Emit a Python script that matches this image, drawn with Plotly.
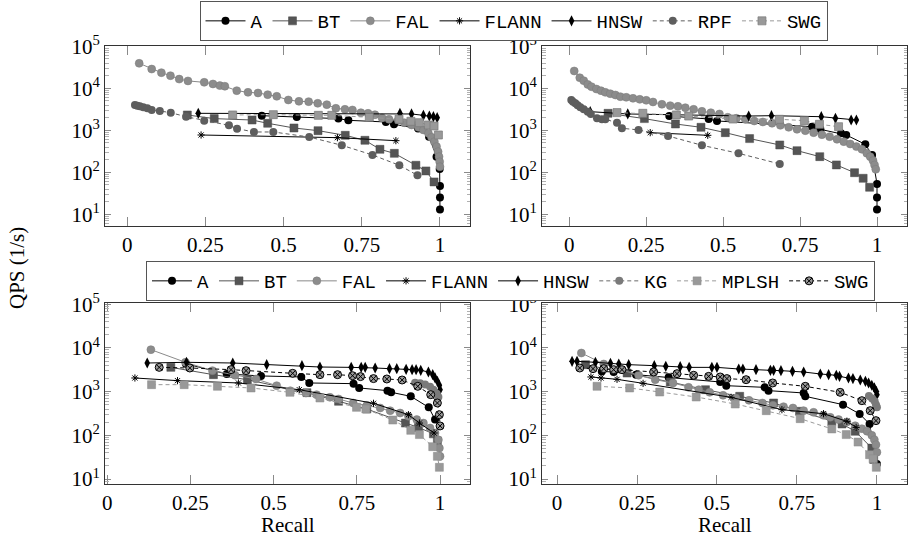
import plotly.graph_objects as go

# ---------------- data: top-left ----------------
TL_A_x = [0.43, 0.542, 0.675, 0.707, 0.827, 0.853, 0.93, 0.965, 0.989, 0.999, 1.0, 1.0, 1.0]
TL_A_y = [2230, 2080, 1900, 1730, 1580, 1390, 1100, 700, 236, 120, 47, 25, 13]
TL_BT_x = [0.192, 0.278, 0.399, 0.449, 0.533, 0.61, 0.697, 0.76, 0.808, 0.854, 0.923, 0.955, 0.981]
TL_BT_y = [2320, 1900, 1760, 1470, 1137, 982, 760, 578, 353, 283, 147, 108, 59]
TL_FAL_x = [0.038, 0.078, 0.109, 0.138, 0.166, 0.194, 0.246, 0.274, 0.296, 0.312, 0.35, 0.386, 0.418,
            0.449, 0.478, 0.515, 0.549, 0.58, 0.609, 0.638, 0.667, 0.696, 0.72, 0.747, 0.77, 0.792,
            0.815, 0.837, 0.867, 0.886, 0.909, 0.931, 0.947, 0.963, 0.973, 0.982, 0.989, 0.994,
            0.997, 0.999, 1.0]
TL_FAL_y = [39400, 28800, 23600, 20000, 16600, 15000, 13900, 12700, 11600, 11200, 8800, 8030, 7750,
            7070, 6450, 5280, 4900, 4820, 4400, 4090, 3340, 3160, 3050, 2630, 2540, 2360,
            1970, 1830, 1760, 1520, 1340, 1180, 1020, 850, 680, 537, 409, 310,
            236, 178, 136]
TL_FLANN_x = [0.236, 0.672, 0.859]
TL_FLANN_y = [774, 668, 567]
TL_HNSW_x = [0.227, 0.872, 0.909, 0.947, 0.966, 0.979, 0.991]
TL_HNSW_y = [2540, 2540, 2450, 2275, 2190, 2110, 2000]
TL_RPF_x = [0.0245, 0.032, 0.04, 0.051, 0.064, 0.078, 0.104, 0.139, 0.188, 0.246, 0.325, 0.351,
            0.405, 0.467, 0.582, 0.686, 0.784, 0.87, 0.928]
TL_RPF_y = [4010, 3870, 3720, 3530, 3340, 3050, 2885, 2630, 2110, 1700, 1315, 1096,
            913, 913, 693, 440, 259, 147, 85]
TL_SWG_x = [0.337, 0.467, 0.611, 0.654, 0.774, 0.869, 0.907, 0.934, 0.963, 0.981, 0.995]
TL_SWG_y = [2320, 2360, 2275, 2275, 2040, 1830, 1640, 1520, 1340, 1270, 774]

# ---------------- data: top-right ----------------
TR_A_x = [0.325, 0.453, 0.48, 0.789, 0.816, 0.883, 0.9, 0.962, 0.984, 1.0, 1.0, 1.0]
TR_A_y = [2190, 1860, 1670, 1220, 1055, 849, 774, 464, 259, 53, 25, 13]
TR_BT_x = [0.126, 0.244, 0.345, 0.428, 0.507, 0.586, 0.684, 0.74, 0.814, 0.868, 0.927, 0.955, 0.976]
TR_BT_y = [2540, 1900, 1415, 1180, 880, 634, 448, 328, 236, 150, 98, 72, 44]
TR_FAL_x = [0.016, 0.034, 0.047, 0.06, 0.072, 0.088, 0.103, 0.117, 0.133, 0.15, 0.166, 0.185, 0.207,
            0.229, 0.25, 0.272, 0.301, 0.328, 0.353, 0.377, 0.404, 0.431, 0.46, 0.488, 0.515, 0.543,
            0.572, 0.601, 0.629, 0.659, 0.686, 0.713, 0.74, 0.767, 0.794, 0.821, 0.846, 0.87, 0.892,
            0.913, 0.933, 0.951, 0.967, 0.978, 0.987, 0.992, 0.996]
TR_FAL_y = [25900, 17900, 15200, 12400, 10960, 9640, 8800, 8030, 7460, 6930, 6330, 6110, 5780,
            5470, 5180, 4730, 4160, 3870, 3720, 3460, 3160, 2830, 2630, 2450, 2040, 1930,
            1830, 1670, 1580, 1470, 1315, 1180, 1055, 982, 880, 788, 706, 611, 537,
            473, 409, 353, 283, 236, 190, 150, 118]
TR_FLANN_x = [0.263, 0.45]
TR_FLANN_y = [880, 760]
TR_HNSW_x = [0.068, 0.19, 0.583, 0.657, 0.819, 0.865, 0.916, 0.933]
TR_HNSW_y = [2780, 2450, 2190, 2230, 2110, 1930, 1760, 1760]
TR_RPF_x = [0.0065, 0.012, 0.0195, 0.027, 0.036, 0.047, 0.06, 0.07, 0.09, 0.106, 0.117, 0.155,
            0.171, 0.225, 0.321, 0.431, 0.55, 0.684]
TR_RPF_y = [5270, 4820, 4400, 3940, 3530, 3160, 2780, 2450, 1930, 1830, 1830, 1520,
            1120, 1020, 733, 440, 283, 158]
TR_SWG_x = [0.155, 0.239, 0.348, 0.388, 0.532, 0.683, 0.764, 0.813, 0.875]
TR_SWG_y = [2640, 2540, 2320, 2190, 1860, 1830, 1700, 1390, 1220]

# ---------------- data: bottom-left ----------------
BL_A_x = [0.236, 0.359, 0.462, 0.583, 0.607, 0.74, 0.757, 0.842, 0.853, 0.912, 0.966, 0.985]
BL_A_y = [4330, 2540, 2290, 2170, 1580, 1525, 1215, 1055, 966, 782, 437, 229]
BL_BT_x = [0.191, 0.319, 0.421, 0.6, 0.695, 0.78, 0.896, 0.935, 0.98, 0.992]
BL_BT_y = [3600, 2450, 1880, 950, 601, 400, 191, 152, 108, 73]
BL_FAL_x = [0.131, 0.235, 0.316, 0.384, 0.447, 0.509, 0.55, 0.597, 0.629, 0.669, 0.695, 0.739, 0.78,
            0.82, 0.85, 0.88, 0.905, 0.93, 0.95, 0.97, 0.985, 0.995, 0.998, 1.0]
BL_FAL_y = [9160, 4700, 3030, 2370, 1950, 1370, 1050, 933, 853, 742, 679, 550, 486,
            423, 367, 324, 272, 229, 191, 147, 113, 79, 51, 33]
BL_FLANN_x = [0.083, 0.211, 0.394, 0.577, 0.8, 0.905, 0.938, 0.982]
BL_FLANN_y = [2055, 1787, 1580, 1110, 541, 297, 191, 113]
BL_HNSW_x = [0.12, 0.238, 0.377, 0.479, 0.585, 0.639, 0.733, 0.763, 0.775, 0.805, 0.848, 0.87, 0.898,
             0.916, 0.928, 0.942, 0.965, 0.978, 0.985, 0.992, 0.998, 1.0]
BL_HNSW_y = [4530, 4700, 4530, 4150, 3940, 3670, 3600, 3600, 3600, 3480, 3360, 3360, 3240,
             3190, 3190, 3080, 2820, 2450, 2060, 1730, 1400, 1110]
BL_KG_x = [0.925, 0.94, 0.955, 0.97, 0.98, 0.99, 0.995]
BL_KG_y = [1600, 1550, 1450, 1300, 1100, 900, 750]
BL_MPLSH_x = [0.133, 0.231, 0.331, 0.432, 0.549, 0.639, 0.749, 0.777, 0.858, 0.912, 0.938, 0.978, 0.992, 0.998]
BL_MPLSH_y = [1445, 1445, 1325, 1215, 966, 716, 437, 401, 224, 130, 104, 55, 33, 18.5]
BL_SWG_x = [0.156, 0.248, 0.372, 0.417, 0.557, 0.639, 0.692, 0.737, 0.761, 0.8, 0.84, 0.886, 0.933,
            0.972, 0.992, 0.998, 1.0]
BL_SWG_y = [3600, 3480, 3190, 3030, 2630, 2450, 2450, 2320, 2210, 1990, 1950, 1850, 1325,
            853, 550, 297, 164]

# ---------------- data: bottom-right ----------------
BR_A_x = [0.14, 0.177, 0.247, 0.349, 0.51, 0.529, 0.649, 0.661, 0.771, 0.776, 0.894, 0.946, 0.977, 1.0]
BR_A_y = [2900, 2820, 2450, 2130, 1665, 1370, 1255, 1055, 933, 782, 504, 308, 182, 22]
BR_BT_x = [0.089, 0.219, 0.354, 0.464, 0.571, 0.677, 0.758, 0.859, 0.891, 0.932, 0.984, 0.99]
BR_BT_y = [4150, 2670, 1665, 1110, 782, 550, 355, 209, 182, 124, 51, 28]
BR_FAL_x = [0.076, 0.146, 0.255, 0.307, 0.3625, 0.411, 0.443, 0.477, 0.519, 0.559, 0.6, 0.642, 0.675,
            0.708, 0.7375, 0.771, 0.802, 0.833, 0.854, 0.88, 0.906, 0.932, 0.953, 0.969, 0.984,
            0.992, 0.997, 1.0]
BR_FAL_y = [7670, 4300, 2370, 1880, 1580, 1255, 1110, 966, 824, 716, 634, 550, 486,
            453, 423, 367, 336, 287, 258, 229, 202, 166, 142, 124, 100,
            79, 61, 41]
BR_FLANN_x = [0.106, 0.1375, 0.1875, 0.269, 0.544, 0.703, 0.833, 0.906, 0.935]
BR_FLANN_y = [2170, 2055, 1915, 1550, 742, 387, 313, 209, 152]
BR_HNSW_x = [0.047, 0.0625, 0.12, 0.167, 0.193, 0.224, 0.304, 0.34, 0.385, 0.413, 0.484, 0.5, 0.568,
             0.581, 0.622, 0.667, 0.677, 0.7, 0.736, 0.771, 0.823, 0.849, 0.873, 0.883, 0.911,
             0.925, 0.948, 0.964, 0.974, 0.984, 0.992, 0.998, 1.0]
BR_HNSW_y = [4950, 4950, 4700, 4450, 4300, 4150, 3940, 3800, 3740, 3600, 3600, 3600, 3300,
             3300, 3190, 3080, 3080, 3030, 2920, 2820, 2540, 2450, 2370, 2240, 2055,
             1990, 1850, 1725, 1580, 1400, 1215, 1020, 853]
BR_KG_x = [0.975, 0.985, 0.993, 0.997, 1.0]
BR_KG_y = [800, 700, 600, 500, 440]
BR_MPLSH_x = [0.125, 0.227, 0.321, 0.435, 0.557, 0.654, 0.76, 0.859, 0.904, 0.941, 0.977, 0.988, 0.998]
BR_MPLSH_y = [1325, 1215, 982, 755, 522, 367, 241, 140, 104, 70, 36, 29, 18.5]
BR_SWG_x = [0.071, 0.1125, 0.146, 0.177, 0.203, 0.302, 0.375, 0.427, 0.474, 0.51, 0.531, 0.591,
            0.674, 0.776, 0.885, 0.953, 0.979, 0.997]
BR_SWG_y = [3480, 3360, 3360, 3190, 3190, 2820, 2580, 2370, 2240, 2170, 1990, 1880,
            1580, 1325, 966, 622, 367, 217]

X_TICKS = [0, 0.25, 0.5, 0.75, 1]
X_TICK_TEXT = ["0", "0.25", "0.5", "0.75", "1"]
Y_TICKS = [10, 100, 1000, 10000, 100000]
Y_TICK_TEXT = ["10<sup>1</sup>", "10<sup>2</sup>", "10<sup>3</sup>", "10<sup>4</sup>", "10<sup>5</sup>"]

# ---------------- styles ----------------
STYLES = {
    "A":     dict(line=dict(color="black", width=1), marker=dict(symbol="circle", size=8, color="black")),
    "BT":    dict(line=dict(color="#555555", width=1),
                  marker=dict(symbol="square", size=8, color="#555555", line=dict(color="#4a4a4a", width=0.5))),
    "FAL":   dict(line=dict(color="#8a8a8a", width=1),
                  marker=dict(symbol="circle", size=8, color="#8c8c8c", line=dict(color="#7a7a7a", width=0.5))),
    "FLANN": dict(line=dict(color="black", width=1),
                  marker=dict(symbol="asterisk-open", size=6, color="black", line=dict(color="black", width=1))),
    "HNSW":  dict(line=dict(color="black", width=1),
                  marker=dict(symbol="diamond-tall", size=8, color="black")),
    "RPF":   dict(line=dict(color="#5e5e5e", width=1, dash="4px,3px"),
                  marker=dict(symbol="circle", size=8, color="#5e5e5e")),
    "SWG_T": dict(line=dict(color="#999999", width=1, dash="4px,3px"),
                  marker=dict(symbol="square", size=8, color="#999999", line=dict(color="#7a7a7a", width=0.7))),
    "KG":    dict(line=dict(color="#6a6a6a", width=1, dash="4px,3px"),
                  marker=dict(symbol="circle", size=8, color="#7a7a7a")),
    "MPLSH": dict(line=dict(color="#9a9a9a", width=1, dash="4px,3px"),
                  marker=dict(symbol="square", size=8, color="#999999", line=dict(color="#8a8a8a", width=0.5))),
    "SWG_B": dict(line=dict(color="black", width=1, dash="4px,3px"),
                  marker=dict(symbol="circle-x", size=8, color="#999999", line=dict(color="black", width=1))),
}

fig = go.Figure()

def add(name, style, xs, ys, ax, legend, show):
    st = STYLES[style]
    fig.add_trace(go.Scatter(
        x=xs, y=ys, mode="lines+markers", name=name,
        line=st["line"], marker=st["marker"],
        xaxis="x" + ("" if ax == 1 else str(ax)),
        yaxis="y" + ("" if ax == 1 else str(ax)),
        legend=legend, showlegend=show, cliponaxis=True,
    ))

top_sets = [
    (1, [("A", "A", TL_A_x, TL_A_y), ("BT", "BT", TL_BT_x, TL_BT_y), ("FAL", "FAL", TL_FAL_x, TL_FAL_y),
         ("FLANN", "FLANN", TL_FLANN_x, TL_FLANN_y), ("HNSW", "HNSW", TL_HNSW_x, TL_HNSW_y),
         ("RPF", "RPF", TL_RPF_x, TL_RPF_y), ("SWG", "SWG_T", TL_SWG_x, TL_SWG_y)]),
    (2, [("A", "A", TR_A_x, TR_A_y), ("BT", "BT", TR_BT_x, TR_BT_y), ("FAL", "FAL", TR_FAL_x, TR_FAL_y),
         ("FLANN", "FLANN", TR_FLANN_x, TR_FLANN_y), ("HNSW", "HNSW", TR_HNSW_x, TR_HNSW_y),
         ("RPF", "RPF", TR_RPF_x, TR_RPF_y), ("SWG", "SWG_T", TR_SWG_x, TR_SWG_y)]),
]
bottom_sets = [
    (3, [("A", "A", BL_A_x, BL_A_y), ("BT", "BT", BL_BT_x, BL_BT_y), ("FAL", "FAL", BL_FAL_x, BL_FAL_y),
         ("FLANN", "FLANN", BL_FLANN_x, BL_FLANN_y), ("HNSW", "HNSW", BL_HNSW_x, BL_HNSW_y),
         ("KG", "KG", BL_KG_x, BL_KG_y), ("MPLSH", "MPLSH", BL_MPLSH_x, BL_MPLSH_y),
         ("SWG", "SWG_B", BL_SWG_x, BL_SWG_y)]),
    (4, [("A", "A", BR_A_x, BR_A_y), ("BT", "BT", BR_BT_x, BR_BT_y), ("FAL", "FAL", BR_FAL_x, BR_FAL_y),
         ("FLANN", "FLANN", BR_FLANN_x, BR_FLANN_y), ("HNSW", "HNSW", BR_HNSW_x, BR_HNSW_y),
         ("KG", "KG", BR_KG_x, BR_KG_y), ("MPLSH", "MPLSH", BR_MPLSH_x, BR_MPLSH_y),
         ("SWG", "SWG_B", BR_SWG_x, BR_SWG_y)]),
]
for i, (ax, series) in enumerate(top_sets):
    for name, style, xs, ys in series:
        add(name, style, xs, ys, ax, "legend", i == 0)
for i, (ax, series) in enumerate(bottom_sets):
    for name, style, xs, ys in series:
        add(name, style, xs, ys, ax, "legend2", i == 0)

W, H = 912, 537
def px_x(a, b):
    return [a / W, b / W]
def px_y(top, bottom):
    return [(H - bottom) / H, (H - top) / H]

SERIF = "Liberation Serif, DejaVu Serif, serif"
MONO = "Liberation Mono, DejaVu Sans Mono, monospace"
TICKFONT = dict(family=SERIF, size=21, color="black")
FRAME = "#333333"
TICKC = "#8a8a8a"

def xaxis(domain, rng, anchor):
    return dict(domain=domain, range=rng, anchor=anchor, tickvals=X_TICKS, ticktext=X_TICK_TEXT,
                ticks="inside", ticklen=9, tickcolor=TICKC, tickwidth=1,
                showline=True, linecolor=FRAME, linewidth=1, mirror="ticks",
                showgrid=False, zeroline=False, tickfont=TICKFONT, automargin=False)

def yaxis(domain, rng, anchor):
    return dict(domain=domain, type="log", range=rng, anchor=anchor, tickvals=Y_TICKS, ticktext=Y_TICK_TEXT,
                ticks="inside", ticklen=6, tickcolor=TICKC, tickwidth=1,
                minor=dict(ticks="inside", ticklen=3.5, tickcolor="#b0b0b0", tickwidth=1,
                           dtick="D1", showgrid=False),
                showline=True, linecolor=FRAME, linewidth=1, mirror="ticks",
                showgrid=False, zeroline=False, tickfont=TICKFONT, automargin=False)

TOP = px_y(45.5, 225.5)
BOT = px_y(303, 483.5)
LEFT = px_x(105, 470)
RIGHT = px_x(542, 907)

LEGFONT = dict(family=MONO, size=19, color="black")

fig.update_layout(
    width=W, height=H,
    margin=dict(l=0, r=0, t=0, b=0, autoexpand=False),
    paper_bgcolor="white", plot_bgcolor="white",
    xaxis=xaxis(LEFT, [-0.0713, 1.096], "y"),
    yaxis=yaxis(TOP, [0.733, 5.02], "x"),
    xaxis2=xaxis(RIGHT, [-0.0887, 1.0975], "y2"),
    yaxis2=yaxis(TOP, [0.733, 5.02], "x2"),
    xaxis3=xaxis(LEFT, [-0.0069, 1.090], "y3"),
    yaxis3=yaxis(BOT, [0.897, 5.03], "x3"),
    xaxis4=xaxis(RIGHT, [-0.047, 1.094], "y4"),
    yaxis4=yaxis(BOT, [0.897, 5.03], "x4"),
    legend=dict(orientation="h", x=513.5 / W, xanchor="center", y=(H - 1) / H, yanchor="top",
                bordercolor="#555555", borderwidth=1, bgcolor="white",
                font=LEGFONT, itemwidth=40, tracegroupgap=0),
    legend2=dict(orientation="h", x=510.5 / W, xanchor="center", y=(H - 261) / H, yanchor="top",
                 bordercolor="#555555", borderwidth=1, bgcolor="white",
                 font=LEGFONT, itemwidth=40, tracegroupgap=0),
    showlegend=True,
    annotations=[
        dict(text="QPS (1/s)", x=17 / W, y=(H - 268) / H, xref="paper", yref="paper",
             showarrow=False, textangle=-90, xanchor="center", yanchor="middle",
             font=dict(family=SERIF, size=21, color="black")),
        dict(text="Recall", x=287.5 / W, y=(H - 525) / H, xref="paper", yref="paper",
             showarrow=False, xanchor="center", yanchor="middle",
             font=dict(family=SERIF, size=21, color="black")),
        dict(text="Recall", x=724.5 / W, y=(H - 525) / H, xref="paper", yref="paper",
             showarrow=False, xanchor="center", yanchor="middle",
             font=dict(family=SERIF, size=21, color="black")),
    ],
)

fig.write_html("out.html")
